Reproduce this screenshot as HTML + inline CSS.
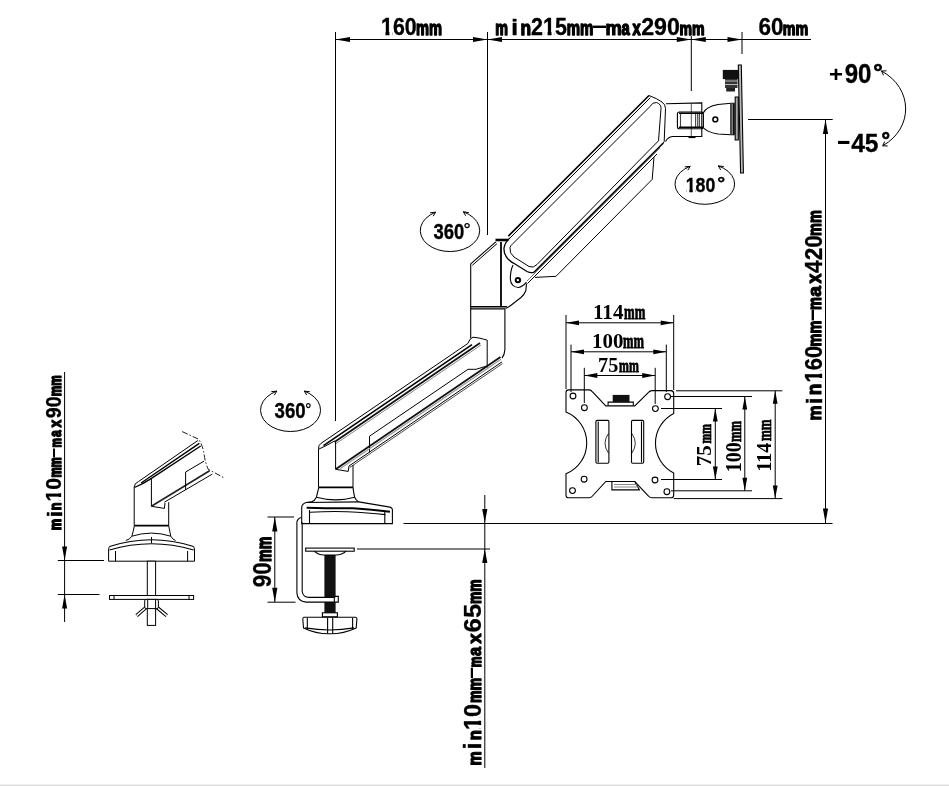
<!DOCTYPE html>
<html><head><meta charset="utf-8"><title>Monitor arm dimensions</title>
<style>
html,body{margin:0;padding:0;background:#fff;}
body{width:949px;height:786px;overflow:hidden;position:relative;}
svg{position:absolute;left:0;top:0;will-change:transform;}
#bar{position:absolute;left:0;top:784px;width:949px;height:1px;background:#f0f0f0;border-bottom:1px solid #dadada;}
</style></head>
<body>
<svg width="949" height="786" viewBox="0 0 949 786">
<defs>
<clipPath id="c1_1" clipPathUnits="userSpaceOnUse"><path clip-rule="evenodd" d="M-500 -500H5000V500H-500ZM4.88 -14.99H21.00V40H4.88ZM39.40 -14.99H54.20V40H39.40Z"/></clipPath>
<clipPath id="c1_2" clipPathUnits="userSpaceOnUse"><path clip-rule="evenodd" d="M-500 -500H5000V500H-500ZM60.50 -15.13H76.63V40H60.50ZM95.00 -15.13H109.81V40H95.00Z"/></clipPath>
<clipPath id="c1_3" clipPathUnits="userSpaceOnUse"><path clip-rule="evenodd" d="M-500 -500H5000V500H-500ZM4.88 -16.08H20.53V40H4.88ZM39.87 -16.08H54.20V40H39.87Z"/></clipPath>
<clipPath id="c1_4" clipPathUnits="userSpaceOnUse"><path clip-rule="evenodd" d="M-500 -500H5000V500H-500ZM4.88 -15.11H21.07V40H4.88ZM39.33 -15.11H54.20V40H39.33Z"/></clipPath>
<clipPath id="c1_5" clipPathUnits="userSpaceOnUse"><path clip-rule="evenodd" d="M-500 -500H5000V500H-500ZM4.88 -14.97H21.19V40H4.88ZM39.21 -14.97H54.20V40H39.21Z"/></clipPath>
<clipPath id="c1_6" clipPathUnits="userSpaceOnUse"><path clip-rule="evenodd" d="M-500 -500H5000V500H-500ZM4.88 -15.63H20.98V40H4.88ZM39.42 -15.63H54.20V40H39.42Z"/></clipPath>
</defs>
<!-- ===== DIMENSION LINES ===== -->
<g fill="none" stroke="#000" stroke-width="1">
<path d="M335.5 39.5H811"/>
<path d="M335.5 32V421M487.5 32V235M691.3 36V91M742 32V54"/>
<path d="M691.3 103V138" stroke="#555"/>
<path d="M748 119.5H832.7M825.5 119.5V523M403.5 523.5H832.5"/>
<path d="M484.8 495V768M357 549H490"/>
<path d="M274.8 517V602M267.5 517H294M267.5 602.2H295.5"/>
<path d="M64.6 372V622M57.8 560.5H104M57.8 594.5H99.5"/>
<!-- VESA dims -->
<path d="M566 315V389M673.7 315V390M566 322.8H673.7"/>
<path d="M571 344.6V392M666.3 344.6V392M571 351.8H666.3"/>
<path d="M584.3 367.8V403M655.2 367.8V404M584.3 375.5H655.2"/>
<path d="M661 408.5H722M661 479.5H722M715.3 408.5V479.5"/>
<path d="M671 396.5H752M671 490.8H752M744.8 396.5V490.8"/>
<path d="M676 390.8H782.4M673.7 498.6H782.4M775.2 390.8V498.6"/>
</g>
<g fill="#000" stroke="none">
<path d="M335.5 39.5l14.5 -2.6v5.2zM487.5 39.5l-14.5 -2.6v5.2zM487.5 39.5l14.5 -2.6v5.2zM691.3 39.5l-14.5 -2.6v5.2zM691.3 39.5l14.5 -2.6v5.2zM742 39.5l-14.5 -2.6v5.2z"/>
<path d="M825.5 119.5l-2.6 14.5h5.2zM825.5 523l-2.6 -14.5h5.2z"/>
<path d="M484.8 523l-2.6 -14h5.2zM484.8 549l-2.6 14h5.2z"/>
<path d="M274.8 517l-2.6 14.5h5.2zM274.8 602.2l-2.6 -14.5h5.2z"/>
<path d="M64.6 560.5l-2.5 -14h5zM64.6 594.5l-2.5 14h5z"/>
<path d="M566 322.8l13 -2.4v4.8zM673.7 322.8l-13 -2.4v4.8z"/>
<path d="M571 351.8l13 -2.4v4.8zM666.3 351.8l-13 -2.4v4.8z"/>
<path d="M584.3 375.5l13 -2.4v4.8zM655.2 375.5l-13 -2.4v4.8z"/>
<path d="M715.3 408.5l-2.4 13h4.8zM715.3 479.5l-2.4 -13h4.8z"/>
<path d="M744.8 396.5l-2.4 13h4.8zM744.8 490.8l-2.4 -13h4.8z"/>
<path d="M775.2 390.8l-2.4 13h4.8zM775.2 498.6l-2.4 -13h4.8z"/>
</g>
<!-- ===== ROTATION ARCS ===== -->
<g fill="none" stroke="#000" stroke-width="1">
<path d="M881.5 71 C913 88 914 128 882.7 145.8"/>
<path d="M881.5 71 l5 -0.2 M881.5 71 l2 4.3"/>
<path d="M882.7 145.8 l5 0.2 M882.7 145.8 l2 -4.3"/>
<path d="M435.6 212.2 A29.7 21 0 1 0 463.3 211.8"/>
<path d="M435.6 212.2l-5.5 0.6M435.6 212.2l-2.4 4"/>
<path d="M463.3 211.8l5.5 0.8M463.3 211.8l2.4 4"/>
<path d="M276.8 391.1 A30 21.4 0 1 0 304.3 391.1"/>
<path d="M276.8 391.1l-5.5 0.6M276.8 391.1l-2.4 4"/>
<path d="M304.3 391.1l5.5 0.6M304.3 391.1l2.4 4"/>
<path d="M690.2 166.3 A29.8 20.3 0 1 0 718.3 165.9"/>
<path d="M690.2 166.3l-5.5 0.6M690.2 166.3l-2.4 4"/>
<path d="M718.3 165.9l5.5 0.6M718.3 165.9l2.4 4"/>
</g>
<!-- ===== HEAD ===== -->
<g fill="none" stroke="#000" stroke-width="1.1">
<path d="M666 103.8L701.8 102.9V136.5H672.5Q668 137 665.5 141.5"/>
<rect x="677.4" y="112" width="26" height="16.7" rx="2"/>
<path d="M680.5 113.5V127.5M695.6 112V128.7M697.7 112V128.7M699.4 112V128.7" stroke="#444"/>
<path d="M679 113.3H703M679 127.3H703" stroke-width="1.4"/>
<path d="M703.2 113Q706.5 106.5 718 104.5L731 103.2H734.2V134.8H731L718 134Q706.5 132 703.2 127.5"/>
<circle cx="715.3" cy="119.4" r="2.4" stroke-width="1.5"/>
<path d="M735.2 97H738.3V140H735.2Z" fill="#aaa"/>
<path d="M738.3 65L741.3 65L743.4 173L740.6 173Z" fill="#bbb" stroke-width="1.1"/>
</g>
<rect x="688.5" y="136.3" width="7" height="1.8" fill="#000"/>
<path d="M731 104V134M733.2 104V134.5" stroke="#000" stroke-width="1.4"/>
<rect x="722.8" y="69.9" width="16" height="9.2" fill="#111"/>
<rect x="725" y="79" width="12.5" height="9" fill="#333"/>
<rect x="726.2" y="88" width="8.8" height="3.5" fill="#222"/>
<path d="M725 81H737.5M725 84.5H737.5" stroke="#ddd" stroke-width="0.8"/>
<!-- ===== UPPER ARM ===== -->
<g fill="none" stroke="#000" stroke-width="1">
<path d="M508.3 236.2L649 95.5" stroke-width="1.6"/>
<path d="M510 238L650.3 97.7"/>
<!-- outer rim -->
<path d="M649 95.5Q657 98.5 662 102Q665.6 104.5 665.5 108.5L664.2 141.5L663.3 143"/>
<path d="M510 238Q505 242 504 248Q503.6 254 508 259Q511 262 515 264L527 271.5Q530.5 273.3 534 272.3" stroke-width="1.3"/>
<path d="M534 272.3L663.3 143" stroke-width="1.6"/>
<!-- inner panel -->
<path d="M650 106.5Q652.5 102 656.5 102.5Q661.2 104 661 108.5L658.5 140.8L537 264.5Q533.5 268.5 529 266.5L514 257Q509 253 510 247.5Q510.5 245.5 513 243.5L650 106.5"/>
<!-- spring band -->
<path d="M527.5 283.5L657 154"/>
<path d="M527 281L660 148" stroke="#777" stroke-width="1"/>
<path d="M535 277.4L556 276.3L652.2 179.4L654 157.2"/>
</g>
<!-- ===== JOINT ===== -->
<g fill="none" stroke="#000" stroke-width="1.1">
<path d="M470.7 338.2V263.9L495.8 241.8"/>
<path d="M472.3 265.3L497 243.6" stroke-width="1"/>
<path d="M495.5 240H508.5" stroke-width="2.6"/>
<path d="M501 242V306.5" stroke-width="1.8"/>
<path d="M470.7 306.7H506.8M470.7 308.9H505" stroke-width="1.4"/>
<path d="M504.9 309V349.6Q504.5 355 502 358.2"/>
<path d="M526.5 283.6L525.8 290.8Q524.5 294.5 521 297.5L510 306Q507.5 307.6 505.5 308.5"/>
<path d="M513.1 265Q510.5 270 510.3 278.4Q510.5 283 512.6 285Q515 287.6 518.5 287.5Q522.5 287 526.5 282.2"/>
</g>
<circle cx="517.9" cy="280.1" r="2.2" fill="none" stroke="#000" stroke-width="2"/>
<!-- ===== LOWER ARM ===== -->
<g fill="none" stroke="#000" stroke-width="1">
<path d="M320.8 443.5L467.7 343.6Q470 338 473 337.2L480 338.2L487.2 340.1V367.7"/>
<path d="M323.5 445.6L472 344.6" stroke-width="1.6"/>
<path d="M334.5 442L480 343" stroke-width="1.7" stroke="#111"/>
<path d="M335 444.3L481 345" stroke-width="1" stroke="#888"/>
<path d="M320.8 443.5Q318.5 445 318.5 448.5V487.4M319 449Q327 445.5 334.5 441"/>
<path d="M335.6 441V469.3L348.2 471.4L349 466"/>
<path d="M369.5 452.4V436.2L468 369.3H476L488.5 365.5"/>
<path d="M335.6 469.3L500.5 357.1" stroke-width="1.8" stroke="#111"/>
<path d="M340 468.8L501 359.3" stroke-width="1.2" stroke="#999"/>
<path d="M349 466L502 361.9"/>
<path d="M350 467.3L502.5 363.6" stroke-width="0.7"/>
<path d="M353 465V487.4"/>
</g>
<!-- ===== BASE ===== -->
<g fill="none" stroke="#000" stroke-width="1.1">
<path d="M318.8 487.4H353" stroke-width="1.8"/>
<path d="M318.8 487.4Q317 495 316.4 497.2Q315 500.5 311.2 501.9M353 487.4Q354 495 354.7 497.2Q356 500.5 358.8 501.9"/>
<path d="M316.4 497.2Q335.6 502.5 354.7 497.2"/>
<path d="M311.2 501.9L306 502.5Q302 504 301.7 507.1V523.6H392.4V509.4Q392 507.5 390 507.1L358.8 501.9"/>
<path d="M306 502.5L358.8 501.9"/>
<path d="M306.6 507.7Q330 508.5 353 508.3Q372 509.5 390 511.7" stroke-width="2"/>
<path d="M310 512.3Q330 511 347 511.7Q368 512.5 385.4 514.6"/>
<path d="M309.5 510V523.6M384.8 512V523.6"/>
</g>
<!-- ===== CLAMP ===== -->
<rect x="324.4" y="555" width="11.2" height="57.8" fill="#111"/>
<rect x="305" y="597.4" width="33.3" height="4.7" fill="#fff"/>
<g fill="none" stroke="#000" stroke-width="1.1">
<path d="M300.9 517.4Q296.9 519 296.9 522.5V592.9Q297.5 601.5 306 602.1H338.3V596.4H334.3"/>
<path d="M302.2 522.2V591.5Q303 597.4 309 597.4H334.3V602.1"/>
<rect x="305.7" y="548.1" width="48.5" height="3.1"/>
<path d="M314.4 551.2Q318 555 324 555H335.9Q342 555 346.2 551.2"/>
<rect x="322.4" y="612.8" width="15" height="4" />
<path d="M304 617.3H355.6Q357 617.5 356.9 619L356.2 628Q343 634 330 633.8Q316 634 303.5 628L302.8 619Q303 617.5 304 617.3Z"/>
<path d="M307.3 618V629.5M352.6 618V629.5M327.6 618V633.6M332.7 618V633.6"/>
<path d="M305 627.9Q330 632 354 627.9"/>
</g>
<!-- ===== VESA PLATE ===== -->
<g fill="none" stroke="#000" stroke-width="1.1">
<path d="M568.5 389.9H589Q591 389.9 592.5 392L605.8 405.9H634.8L648.5 392.3Q650 390.6 652 390.6H671Q673.7 390.8 673.7 393.5V413.5A33.4 33.4 0 0 0 673.7 473V495Q673.7 497.8 671 497.8H652Q650 497.8 648.5 496L634.8 481.5H605.8L592.5 496Q591 497.8 589 497.8H568.5Q566 497.8 566 495V473.8A33.4 33.4 0 0 0 566 412V392.5Q566 389.9 568.5 389.9Z"/>
<circle cx="573" cy="396" r="2.9"/><circle cx="667.6" cy="396.7" r="2.9"/>
<circle cx="584.4" cy="407.7" r="2.9"/><circle cx="655.4" cy="408.6" r="2.9"/>
<circle cx="584.1" cy="479.2" r="2.9"/><circle cx="655" cy="480" r="2.9"/>
<circle cx="572.5" cy="490.6" r="2.9"/><circle cx="666.9" cy="491.7" r="2.9"/>
<rect x="595.9" y="420.4" width="13" height="42.8" rx="1.2"/>
<rect x="631.5" y="420.4" width="12.2" height="42.8" rx="1.2"/>
<path d="M598.2 421.5V462.5M641.5 421.5V462.5"/>
<path d="M608.5 433.4Q601.5 443.3 608.5 453.2M631.8 433.4Q638.8 443.3 631.8 453.2" stroke-width="0.8"/>
<path d="M608.1 405.6V402.1H633.3V405.6"/>
<path d="M611.9 481.9V489.9H639.4L634.8 481.5" />
</g>
<rect x="612.7" y="394.9" width="16.8" height="7.2" fill="#111"/>
<path d="M614 484.5H637M614 487H638" stroke="#888" stroke-width="1"/>
<!-- ===== LEFT SMALL DRAWING ===== -->
<g fill="none" stroke="#000" stroke-width="1">
<path d="M134.2 525.6V487Q134.5 483 138.4 481.6L197.9 440.5"/>
<path d="M141.1 483L199.3 443.3" stroke-width="1.4"/>
<path d="M134.5 487.5Q143 484 150.7 478.9L200.7 446" stroke-width="1.3"/>
<path d="M151.4 478.9V506.3L164.4 508.4L165 503"/>
<path d="M151.4 506.3L209.6 470.7" stroke-width="1.6" stroke="#222"/>
<path d="M164.4 502.2L212.3 474.1"/>
<path d="M185.6 489.9V472L204.1 461.1"/>
<path d="M168.7 502.2V525.6"/>
<path d="M182.2 431.6L198.6 439.2Q203 446 204.1 454.2Q205 462 208.2 469.3L224.7 478.2" stroke-dasharray="6 2 1.5 2" stroke-width="0.9"/>
<path d="M134.4 525.6H168.7" stroke-width="1.8"/>
<path d="M134.4 525.6Q133 533 131.8 536.2Q130 539.5 125.8 540.5M168.7 525.6Q170 533 170.8 536.2Q172.5 539.5 175.6 540.5"/>
<path d="M131.8 536.2Q151.5 530 170.8 536.2"/>
<path d="M109.5 546.5Q151.5 533 193.6 546.5M109.5 550Q151.5 537.5 193.6 550" stroke-width="1.2"/>
<path d="M109.5 546.5Q108.6 548 108.6 550V561.2H194.5V550Q194.5 548 193.6 546.5"/>
<path d="M115.5 551V561.2M187.6 551V561.2M151.5 537V543"/>
<rect x="147.3" y="561.2" width="8.3" height="64.2" fill="#fff"/>
<rect x="109.5" y="595.5" width="84.1" height="3.9" fill="#fff"/>
<path d="M114 595.5V599.4M189 595.5V599.4"/>
</g>
<path d="M146 607.5L136.6 615.6M157 607.5L166.8 615.6" stroke="#000" stroke-width="3.6" fill="none"/>
<path d="M146 607.5L136.6 615.6M157 607.5L166.8 615.6" stroke="#fff" stroke-width="1.6" fill="none"/>
<g fill="#fff" stroke="#000" stroke-width="1">
<rect x="144.7" y="599.4" width="13.7" height="9.2" rx="1.5"/>
<path d="M147.7 599.8V608.2M155.6 599.8V608.2" fill="none"/>
</g>

<g fill="#000" stroke="none">
<text transform="matrix(0.2135 0 0 0.2451 381.01 35.49)" font-family='"Liberation Sans",sans-serif' font-weight="bold" font-size="100" stroke="#000" stroke-width="1.41" stroke-linejoin="round" clip-path="url(#c1_1)" >160</text>
<text transform="matrix(0.1466 0 0 0.1988 415.88 35.15)" font-family='"Liberation Sans",sans-serif' font-weight="bold" font-size="100" stroke="#000" stroke-width="7.50" stroke-linejoin="round" >mm</text>
<text transform="matrix(0.1432 0 0 0.1950 495.31 34.75)" font-family='"Liberation Sans",sans-serif' font-weight="bold" font-size="100" stroke="#000" stroke-width="7.68" stroke-linejoin="round" >m</text>
<text transform="matrix(0.2405 0 0 0.2294 511.37 35.26)" font-family='"Liberation Sans",sans-serif' font-weight="bold" font-size="100" stroke="#000" stroke-width="2.08" stroke-linejoin="round" >i</text>
<text transform="matrix(0.1739 0 0 0.1994 520.40 34.87)" font-family='"Liberation Sans",sans-serif' font-weight="bold" font-size="100" stroke="#000" stroke-width="6.32" stroke-linejoin="round" >n</text>
<text transform="matrix(0.2148 0 0 0.2369 531.11 35.10)" font-family='"Liberation Sans",sans-serif' font-weight="bold" font-size="100" stroke="#000" stroke-width="1.40" stroke-linejoin="round" clip-path="url(#c1_2)" >215</text>
<text transform="matrix(0.1497 0 0 0.1961 566.66 34.78)" font-family='"Liberation Sans",sans-serif' font-weight="bold" font-size="100" stroke="#000" stroke-width="7.35" stroke-linejoin="round" >mm</text>
<text transform="matrix(0.5120 0 0 0.1930 590.90 32.26)" font-family='"Liberation Sans",sans-serif' font-weight="bold" font-size="100" >-</text>
<text transform="matrix(0.1839 0 0 0.2005 605.54 35.00)" font-family='"Liberation Sans",sans-serif' font-weight="bold" font-size="100" stroke="#000" stroke-width="5.98" stroke-linejoin="round" >m</text>
<text transform="matrix(0.1482 0 0 0.1929 621.62 34.70)" font-family='"Liberation Sans",sans-serif' font-weight="bold" font-size="100" stroke="#000" stroke-width="7.42" stroke-linejoin="round" >a</text>
<text transform="matrix(0.1458 0 0 0.1987 632.45 34.85)" font-family='"Liberation Sans",sans-serif' font-weight="bold" font-size="100" stroke="#000" stroke-width="7.55" stroke-linejoin="round" >x</text>
<text transform="matrix(0.2323 0 0 0.2358 641.14 35.42)" font-family='"Liberation Sans",sans-serif' font-weight="bold" font-size="100" stroke="#000" stroke-width="1.29" stroke-linejoin="round" >290</text>
<text transform="matrix(0.1412 0 0 0.1865 679.42 35.07)" font-family='"Liberation Sans",sans-serif' font-weight="bold" font-size="100" stroke="#000" stroke-width="7.79" stroke-linejoin="round" >mm</text>
<text transform="matrix(0.2252 0 0 0.2412 758.53 35.40)" font-family='"Liberation Sans",sans-serif' font-weight="bold" font-size="100" stroke="#000" stroke-width="1.33" stroke-linejoin="round" >60</text>
<text transform="matrix(0.1430 0 0 0.1917 782.81 35.06)" font-family='"Liberation Sans",sans-serif' font-weight="bold" font-size="100" stroke="#000" stroke-width="7.69" stroke-linejoin="round" >mm</text>
<text transform="matrix(0.2393 0 0 0.2265 829.00 81.78)" font-family='"Liberation Sans",sans-serif' font-weight="bold" font-size="100" >+</text>
<text transform="matrix(0.2412 0 0 0.2693 844.71 83.27)" font-family='"Liberation Sans",sans-serif' font-weight="bold" font-size="100" stroke="#000" stroke-width="1.24" stroke-linejoin="round" >90</text>
<text transform="matrix(0.2364 0 0 0.2194 873.31 79.89)" font-family='"Liberation Sans",sans-serif' font-weight="bold" font-size="100" stroke="#000" stroke-width="2.96" stroke-linejoin="round" >°</text>
<text transform="matrix(0.4490 0 0 0.2518 836.25 149.03)" font-family='"Liberation Sans",sans-serif' font-weight="bold" font-size="100" >-</text>
<text transform="matrix(0.2459 0 0 0.2634 851.18 152.08)" font-family='"Liberation Sans",sans-serif' font-weight="bold" font-size="100" stroke="#000" stroke-width="1.22" stroke-linejoin="round" >45</text>
<text transform="matrix(0.2141 0 0 0.2204 881.41 148.19)" font-family='"Liberation Sans",sans-serif' font-weight="bold" font-size="100" stroke="#000" stroke-width="3.27" stroke-linejoin="round" >°</text>
<text transform="matrix(0.1845 0 0 0.2136 433.53 239.09)" font-family='"Liberation Sans",sans-serif' font-weight="bold" font-size="100" stroke="#000" stroke-width="1.63" stroke-linejoin="round" >360</text>
<text transform="matrix(0.1789 0 0 0.1560 463.61 235.16)" font-family='"Liberation Sans",sans-serif' font-weight="bold" font-size="100" font-weight="normal">°</text>
<text transform="matrix(0.1864 0 0 0.2136 274.62 418.29)" font-family='"Liberation Sans",sans-serif' font-weight="bold" font-size="100" stroke="#000" stroke-width="1.61" stroke-linejoin="round" >360</text>
<text transform="matrix(0.1534 0 0 0.1560 305.23 414.86)" font-family='"Liberation Sans",sans-serif' font-weight="bold" font-size="100" font-weight="normal">°</text>
<text transform="matrix(0.1777 0 0 0.1987 685.73 192.44)" font-family='"Liberation Sans",sans-serif' font-weight="bold" font-size="100" stroke="#000" stroke-width="1.69" stroke-linejoin="round" clip-path="url(#c1_3)" >180</text>
<text transform="matrix(0.1981 0 0 0.1592 717.28 188.88)" font-family='"Liberation Sans",sans-serif' font-weight="bold" font-size="100" stroke="#000" stroke-width="2.52" stroke-linejoin="round" >°</text>
<text transform="matrix(0.2105 0 0 0.2151 593.01 319.30)" font-family='"Liberation Serif",serif' font-weight="bold" font-size="100" >114</text>
<text transform="matrix(0.1282 0 0 0.2097 624.11 318.89)" font-family='"Liberation Serif",serif' font-weight="bold" font-size="100" stroke="#000" stroke-width="3.90" stroke-linejoin="round" >mm</text>
<text transform="matrix(0.2099 0 0 0.2030 591.92 348.10)" font-family='"Liberation Serif",serif' font-weight="bold" font-size="100" >100</text>
<text transform="matrix(0.1258 0 0 0.1996 623.01 347.90)" font-family='"Liberation Serif",serif' font-weight="bold" font-size="100" stroke="#000" stroke-width="3.98" stroke-linejoin="round" >mm</text>
<text transform="matrix(0.2030 0 0 0.2137 598.04 371.99)" font-family='"Liberation Serif",serif' font-weight="bold" font-size="100" >75</text>
<text transform="matrix(0.1190 0 0 0.1987 619.03 371.78)" font-family='"Liberation Serif",serif' font-weight="bold" font-size="100" stroke="#000" stroke-width="4.20" stroke-linejoin="round" >mm</text>
<text transform="matrix(0 -0.2097 0.2182 0 711.29 466.20)" font-family='"Liberation Serif",serif' font-weight="bold" font-size="100" >75</text>
<text transform="matrix(0 -0.1171 0.1751 0 711.13 443.56)" font-family='"Liberation Serif",serif' font-weight="bold" font-size="100" stroke="#000" stroke-width="4.27" stroke-linejoin="round" >mm</text>
<text transform="matrix(0 -0.1997 0.2238 0 741.38 472.20)" font-family='"Liberation Serif",serif' font-weight="bold" font-size="100" >100</text>
<text transform="matrix(0 -0.1264 0.1880 0 741.23 442.09)" font-family='"Liberation Serif",serif' font-weight="bold" font-size="100" stroke="#000" stroke-width="3.96" stroke-linejoin="round" >mm</text>
<text transform="matrix(0 -0.1998 0.2136 0 771.10 471.60)" font-family='"Liberation Serif",serif' font-weight="bold" font-size="100" >114</text>
<text transform="matrix(0 -0.1295 0.1863 0 770.74 441.10)" font-family='"Liberation Serif",serif' font-weight="bold" font-size="100" stroke="#000" stroke-width="3.86" stroke-linejoin="round" >mm</text>
<text transform="matrix(0 -0.1695 0.1906 0 821.38 420.57)" font-family='"Liberation Sans",sans-serif' font-weight="bold" font-size="100" stroke="#000" stroke-width="6.49" stroke-linejoin="round" >m</text>
<text transform="matrix(0 -0.2405 0.2294 0 821.76 404.13)" font-family='"Liberation Sans",sans-serif' font-weight="bold" font-size="100" stroke="#000" stroke-width="2.08" stroke-linejoin="round" >i</text>
<text transform="matrix(0 -0.1905 0.1929 0 821.44 395.31)" font-family='"Liberation Sans",sans-serif' font-weight="bold" font-size="100" stroke="#000" stroke-width="5.77" stroke-linejoin="round" >n</text>
<text transform="matrix(0 -0.2205 0.2370 0 821.61 382.54)" font-family='"Liberation Sans",sans-serif' font-weight="bold" font-size="100" stroke="#000" stroke-width="1.36" stroke-linejoin="round" clip-path="url(#c1_4)" >160</text>
<text transform="matrix(0 -0.1442 0.1870 0 821.29 346.40)" font-family='"Liberation Sans",sans-serif' font-weight="bold" font-size="100" stroke="#000" stroke-width="7.63" stroke-linejoin="round" >mm</text>
<text transform="matrix(0 -0.4214 0.1930 0 817.66 322.05)" font-family='"Liberation Sans",sans-serif' font-weight="bold" font-size="100" >-</text>
<text transform="matrix(0 -0.1458 0.1873 0 821.29 310.11)" font-family='"Liberation Sans",sans-serif' font-weight="bold" font-size="100" stroke="#000" stroke-width="7.54" stroke-linejoin="round" >m</text>
<text transform="matrix(0 -0.1932 0.1901 0 821.27 296.72)" font-family='"Liberation Sans",sans-serif' font-weight="bold" font-size="100" stroke="#000" stroke-width="5.69" stroke-linejoin="round" >a</text>
<text transform="matrix(0 -0.1790 0.1950 0 821.40 283.57)" font-family='"Liberation Sans",sans-serif' font-weight="bold" font-size="100" stroke="#000" stroke-width="6.15" stroke-linejoin="round" >x</text>
<text transform="matrix(0 -0.2258 0.2426 0 821.60 272.89)" font-family='"Liberation Sans",sans-serif' font-weight="bold" font-size="100" stroke="#000" stroke-width="1.33" stroke-linejoin="round" >420</text>
<text transform="matrix(0 -0.1442 0.1870 0 821.29 235.90)" font-family='"Liberation Sans",sans-serif' font-weight="bold" font-size="100" stroke="#000" stroke-width="7.63" stroke-linejoin="round" >mm</text>
<text transform="matrix(0 -0.1603 0.1779 0 480.69 765.51)" font-family='"Liberation Sans",sans-serif' font-weight="bold" font-size="100" stroke="#000" stroke-width="6.86" stroke-linejoin="round" >m</text>
<text transform="matrix(0 -0.2697 0.2355 0 481.08 749.83)" font-family='"Liberation Sans",sans-serif' font-weight="bold" font-size="100" stroke="#000" stroke-width="1.85" stroke-linejoin="round" >i</text>
<text transform="matrix(0 -0.1657 0.1785 0 480.71 740.34)" font-family='"Liberation Sans",sans-serif' font-weight="bold" font-size="100" stroke="#000" stroke-width="6.64" stroke-linejoin="round" >n</text>
<text transform="matrix(0 -0.2331 0.2428 0 480.91 729.92)" font-family='"Liberation Sans",sans-serif' font-weight="bold" font-size="100" stroke="#000" stroke-width="1.29" stroke-linejoin="round" clip-path="url(#c1_5)" >10</text>
<text transform="matrix(0 -0.1418 0.1753 0 480.62 703.08)" font-family='"Liberation Sans",sans-serif' font-weight="bold" font-size="100" stroke="#000" stroke-width="7.76" stroke-linejoin="round" >mm</text>
<text transform="matrix(0 -0.4135 0.1847 0 477.09 679.82)" font-family='"Liberation Sans",sans-serif' font-weight="bold" font-size="100" >-</text>
<text transform="matrix(0 -0.1195 0.1713 0 480.51 667.24)" font-family='"Liberation Sans",sans-serif' font-weight="bold" font-size="100" stroke="#000" stroke-width="9.20" stroke-linejoin="round" >m</text>
<text transform="matrix(0 -0.1632 0.1755 0 480.54 656.03)" font-family='"Liberation Sans",sans-serif' font-weight="bold" font-size="100" stroke="#000" stroke-width="6.74" stroke-linejoin="round" >a</text>
<text transform="matrix(0 -0.1863 0.1839 0 480.76 643.78)" font-family='"Liberation Sans",sans-serif' font-weight="bold" font-size="100" stroke="#000" stroke-width="5.90" stroke-linejoin="round" >x</text>
<text transform="matrix(0 -0.2577 0.2432 0 480.92 632.39)" font-family='"Liberation Sans",sans-serif' font-weight="bold" font-size="100" stroke="#000" stroke-width="1.16" stroke-linejoin="round" >65</text>
<text transform="matrix(0 -0.1375 0.1746 0 480.60 603.96)" font-family='"Liberation Sans",sans-serif' font-weight="bold" font-size="100" stroke="#000" stroke-width="8.00" stroke-linejoin="round" >mm</text>
<text transform="matrix(0 -0.1287 0.1602 0 61.12 530.20)" font-family='"Liberation Sans",sans-serif' font-weight="bold" font-size="100" stroke="#000" stroke-width="8.54" stroke-linejoin="round" >m</text>
<text transform="matrix(0 -0.2259 0.2049 0 61.57 517.33)" font-family='"Liberation Sans",sans-serif' font-weight="bold" font-size="100" stroke="#000" stroke-width="2.21" stroke-linejoin="round" >i</text>
<text transform="matrix(0 -0.1263 0.1598 0 61.10 510.28)" font-family='"Liberation Sans",sans-serif' font-weight="bold" font-size="100" stroke="#000" stroke-width="8.71" stroke-linejoin="round" >n</text>
<text transform="matrix(0 -0.2122 0.2119 0 61.44 501.49)" font-family='"Liberation Sans",sans-serif' font-weight="bold" font-size="100" stroke="#000" stroke-width="1.41" stroke-linejoin="round" clip-path="url(#c1_6)" >10</text>
<text transform="matrix(0 -0.1139 0.1574 0 61.04 477.60)" font-family='"Liberation Sans",sans-serif' font-weight="bold" font-size="100" stroke="#000" stroke-width="9.66" stroke-linejoin="round" >mm</text>
<text transform="matrix(0 -0.3584 0.1595 0 58.38 458.90)" font-family='"Liberation Sans",sans-serif' font-weight="bold" font-size="100" >-</text>
<text transform="matrix(0 -0.1051 0.1555 0 60.99 447.44)" font-family='"Liberation Sans",sans-serif' font-weight="bold" font-size="100" stroke="#000" stroke-width="10.47" stroke-linejoin="round" >m</text>
<text transform="matrix(0 -0.1200 0.1564 0 60.93 436.90)" font-family='"Liberation Sans",sans-serif' font-weight="bold" font-size="100" stroke="#000" stroke-width="9.16" stroke-linejoin="round" >a</text>
<text transform="matrix(0 -0.1384 0.1645 0 61.15 427.44)" font-family='"Liberation Sans",sans-serif' font-weight="bold" font-size="100" stroke="#000" stroke-width="7.95" stroke-linejoin="round" >x</text>
<text transform="matrix(0 -0.1958 0.2115 0 61.43 418.13)" font-family='"Liberation Sans",sans-serif' font-weight="bold" font-size="100" stroke="#000" stroke-width="1.53" stroke-linejoin="round" >90</text>
<text transform="matrix(0 -0.1182 0.1583 0 61.06 396.13)" font-family='"Liberation Sans",sans-serif' font-weight="bold" font-size="100" stroke="#000" stroke-width="9.31" stroke-linejoin="round" >mm</text>
<text transform="matrix(0 -0.2248 0.2537 0 270.88 587.13)" font-family='"Liberation Sans",sans-serif' font-weight="bold" font-size="100" stroke="#000" stroke-width="1.33" stroke-linejoin="round" >90</text>
<text transform="matrix(0 -0.1418 0.1948 0 270.54 561.88)" font-family='"Liberation Sans",sans-serif' font-weight="bold" font-size="100" stroke="#000" stroke-width="7.76" stroke-linejoin="round" >mm</text>
</g>
</svg>
<div id="bar"></div>
</body></html>
